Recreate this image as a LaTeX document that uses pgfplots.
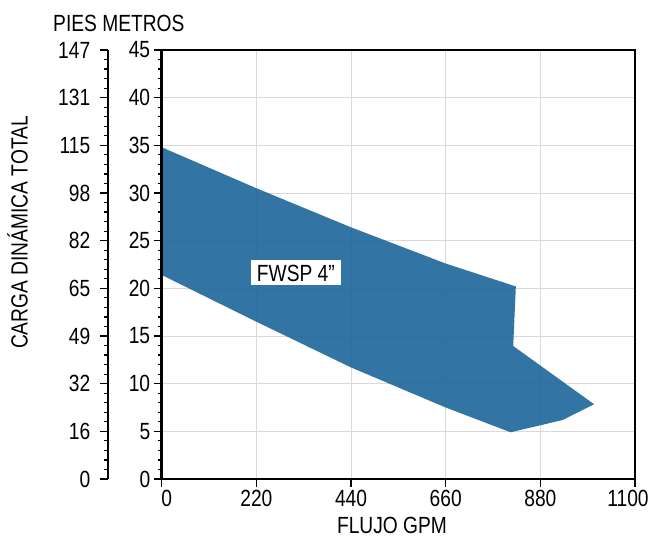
\documentclass[border=0pt]{standalone}
\usepackage{fontspec}
\setmainfont[FakeStretch=0.82]{Liberation Sans}
\usepackage{pgfplots}
\pgfplotsset{compat=1.18}
\definecolor{fillblue}{RGB}{28,102,154}
\definecolor{gridgray}{RGB}{217,217,217}
\newcommand{\lab}{\fontsize{23.5}{28}\selectfont}
\begin{document}
\begin{tikzpicture}
% grid behind the fill
\begin{axis}[
  at={(0,0)}, anchor=south west, scale only axis,
  width=473.3bp, height=429bp,
  xmin=0, xmax=1100, ymin=0, ymax=45,
  xtick={0,220,440,660,880,1100},
  ytick={0,5,...,45},
  major tick length=0pt, minor tick length=0pt,
  xticklabels={}, yticklabels={},
  axis line style={draw=none},
  grid=major,
  grid style={gridgray, line width=1bp},
]
\addplot[draw=none] coordinates {(0,0)};
\end{axis}
% main axis
\begin{axis}[
  at={(0,0)}, anchor=south west, scale only axis,
  width=473.3bp, height=429bp,
  xmin=0, xmax=1100, ymin=0, ymax=45,
  xtick={0,220,440,660,880,1100},
  xticklabels={\hspace*{10bp}0,220,440,660,880,1100\hspace*{14bp}},
  ytick={0,5,...,45},
  minor y tick num=4,
  tick pos=left, tick align=outside,
  major tick length=8bp, minor tick length=4bp,
  every tick/.style={black, line width=1.2bp},
  axis line style={black, line width=2.5bp},
  axis on top,
  tick label style={font=\lab},
  /pgf/number format/assume math mode=true,
  /pgf/number format/1000 sep={},
]
\addplot[fill=fillblue, fill opacity=0.9, draw=none] coordinates {
  (0,34.8) (220,30.5) (440,26.4) (660,22.6) (823,20.2)
  (817,13.95) (1005,7.84) (932,6.19) (811,4.9)
  (660,7.5) (440,11.7) (220,16.5) (0,21.4)
};
\node[fill=white, font=\lab, inner xsep=6bp, inner ysep=4bp, text height=17bp, text depth=0bp] at (axis cs:311.8,21.65) {FWSP 4”};
\end{axis}
% secondary feet axis
\begin{axis}[
  at={(-53.4bp,0)}, anchor=south west, scale only axis,
  width=10bp, height=429bp,
  xmin=0, xmax=1, ymin=0, ymax=45,
  separate axis lines,
  axis x line=none, axis y line*=left,
  ytick pos=left, yticklabel pos=left,
  y axis line style={-, black, line width=2bp},
  ytick={0,5,...,45},
  yticklabels={0,16,32,49,65,82,98,115,131,147},
  minor y tick num=4, tick align=outside,
  major tick length=8bp, minor tick length=4bp,
  every tick/.style={black, line width=1.2bp},
  yticklabel style={font=\lab, xshift=-6.5bp},
]
\addplot[draw=none] coordinates {(0,0)};
\end{axis}
\node[anchor=west, inner sep=0, font=\lab] at (-108.7bp,456bp) {PIES METROS};
\node[rotate=90, inner sep=0, font=\lab, text height=0.72em, text depth=0pt] at (-137.7bp,246.5bp) {CARGA DINÁMICA TOTAL};
\node[inner sep=0, font=\lab, text height=0.72em, text depth=0pt] at (230.3bp,-51bp) {FLUJO GPM};
\pgfresetboundingbox
\path[use as bounding box] (-161.7bp,-63bp) rectangle (487.3bp,479bp);
\end{tikzpicture}
\end{document}
